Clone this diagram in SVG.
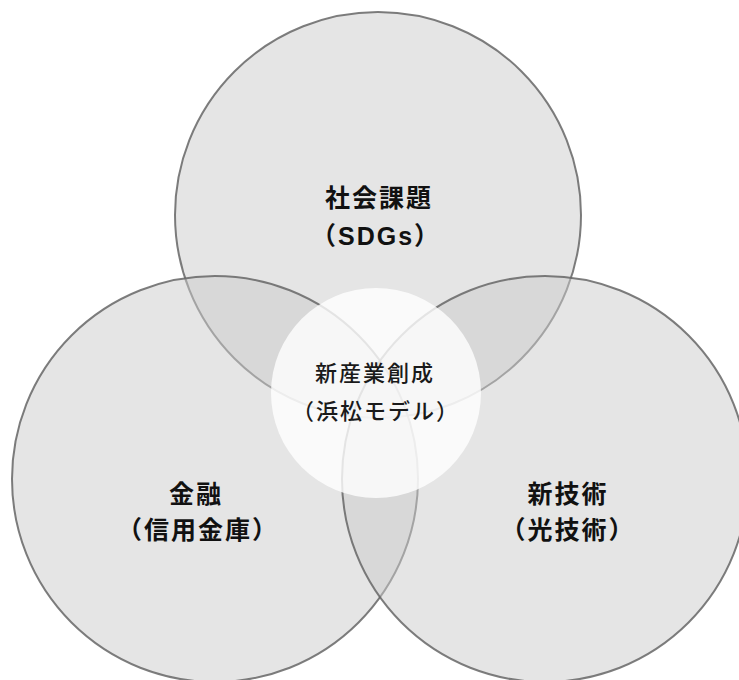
<svg xmlns="http://www.w3.org/2000/svg" width="739" height="680" viewBox="0 0 739 680">
<style>
.c{fill:#cbcbcb;fill-opacity:0.5;stroke:#666;stroke-width:2;stroke-opacity:0.85}
.w{fill:#ffffff;fill-opacity:0.8;stroke:none}
.lb{font-family:"Liberation Sans","Noto Sans CJK JP",sans-serif;font-weight:bold;font-size:25px;fill:#111;text-anchor:middle;letter-spacing:2px}
.lc{font-family:"Noto Sans CJK JP","Noto Sans",sans-serif;font-weight:500;font-size:22px;fill:#1a1a1a;text-anchor:middle;letter-spacing:2px}
</style>
<rect width="739" height="680" fill="#ffffff"/>
<g id="social">
<circle class="c" cx="378" cy="215" r="203"/>
</g>
<g id="finance">
<circle class="c" cx="215" cy="479" r="203"/>
</g>
<g id="tech">
<circle class="c" cx="545" cy="479" r="203"/>
</g>
<g id="center">
<circle class="w" cx="376" cy="393" r="105"/>
</g>
<g id="connectors"></g>
<g id="labels">
<g id="social-label"><text class="lb" x="379" y="207">社会課題</text><text class="lb" x="376" y="245">（SDGs）</text></g>
<g id="finance-label"><text class="lb" x="196" y="503">金融</text><text class="lb" x="198" y="539">（信用金庫）</text></g>
<g id="tech-label"><text class="lb" x="568" y="503">新技術</text><text class="lb" x="568" y="539">（光技術）</text></g>
<g id="center-label"><text class="lc" x="375" y="381">新産業創成</text><text class="lc" x="376" y="419">（浜松モデル）</text></g>
</g>
</svg>
